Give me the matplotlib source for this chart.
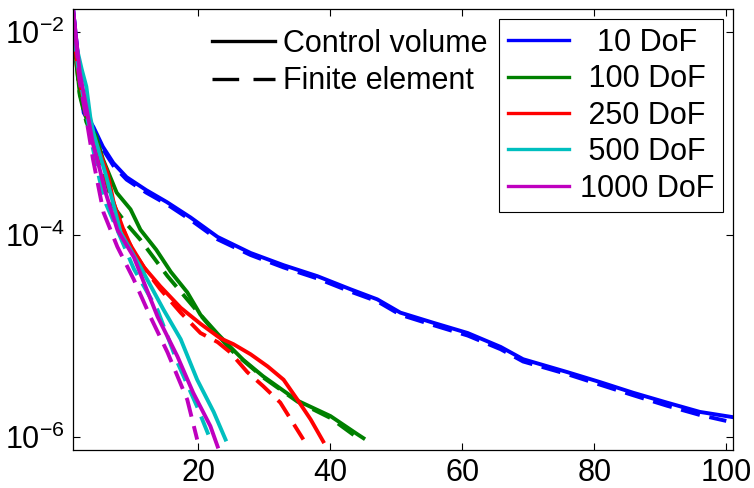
import matplotlib
matplotlib.use("Agg")
import matplotlib.pyplot as plt
from matplotlib.lines import Line2D
from matplotlib.ticker import FixedLocator, NullLocator, LogFormatterSciNotation

plt.rcParams['font.family'] = ['Liberation Sans', 'DejaVu Sans']
plt.rcParams['mathtext.fontset'] = 'custom'
plt.rcParams['mathtext.rm'] = 'Liberation Sans'
plt.rcParams['mathtext.it'] = 'Liberation Sans:italic'
plt.rcParams['mathtext.bf'] = 'Liberation Sans:bold'

# 10 DoF
x10_cv = [1, 1.8, 2.6, 4.1, 5.5, 7.1, 9.1, 12.1, 15.2, 18.8, 22.9, 27.9, 32.9, 38, 43, 47.1, 50.6, 55.6, 60.8, 65.8, 69.2, 75.9, 80.9, 85.9, 91, 96, 101]
y10_cv = [1.66e-2, 5.3e-3, 1.7e-3, 1.15e-3, 7.4e-4, 5.1e-4, 3.7e-4, 2.75e-4, 2.1e-4, 1.48e-4, 9.5e-5, 6.6e-5, 5.0e-5, 3.9e-5, 2.9e-5, 2.3e-5, 1.7e-5, 1.35e-5, 1.07e-5, 7.8e-6, 5.9e-6, 4.4e-6, 3.5e-6, 2.75e-6, 2.2e-6, 1.78e-6, 1.58e-6]
x10_fe = [1, 1.8, 2.6, 4.1, 5.5, 7.1, 9.1, 12.1, 15.2, 18.8, 22.9, 27.9, 32.9, 38, 43, 47.1, 50.6, 55.6, 60.8, 65.8, 69.2, 75.9, 80.9, 85.9, 91, 96, 100]
y10_fe = [1.66e-2, 5.0e-3, 1.6e-3, 1.1e-3, 7.0e-4, 4.8e-4, 3.5e-4, 2.6e-4, 2.0e-4, 1.4e-4, 9.0e-5, 6.3e-5, 4.75e-5, 3.7e-5, 2.75e-5, 2.2e-5, 1.62e-5, 1.28e-5, 1.01e-5, 7.4e-6, 5.6e-6, 4.2e-6, 3.3e-6, 2.6e-6, 2.05e-6, 1.66e-6, 1.45e-6]

# 100 DoF
x100_cv = [1, 2, 3, 4.5, 5.5, 7.6, 9.7, 11.2, 13.6, 15.8, 18.3, 20.3, 22.9, 25, 26.8, 29.8, 35, 40, 44.1, 45]
y100_cv = [1.0e-2, 2.5e-3, 1.4e-3, 9.3e-4, 5.6e-4, 2.6e-4, 1.78e-4, 1.12e-4, 7.1e-5, 4.3e-5, 2.7e-5, 1.62e-5, 1.05e-5, 7.6e-6, 5.8e-6, 4.0e-6, 2.3e-6, 1.62e-6, 1.07e-6, 9.8e-7]
x100_fe = [1, 2, 3, 4, 5.2, 7.1, 9, 11.2, 15.3, 18.8, 21.8, 25, 29.8, 35, 40, 44]
y100_fe = [1.0e-2, 2.4e-3, 1.3e-3, 9.0e-4, 5.1e-4, 1.9e-4, 1.3e-4, 8.9e-5, 3.9e-5, 2.1e-5, 1.23e-5, 7.2e-6, 3.9e-6, 2.25e-6, 1.55e-6, 1.0e-6]

# 250 DoF
x250_cv = [1, 2, 3, 4, 4.7, 6.2, 7.2, 9.2, 11.7, 14.2, 17.3, 20.3, 23.3, 25.3, 27.9, 30.5, 32.9, 35, 37, 38.9]
y250_cv = [1.0e-2, 3.2e-3, 1.6e-3, 1.0e-3, 7.4e-4, 4.1e-4, 2.0e-4, 8.9e-5, 4.8e-5, 3.1e-5, 1.9e-5, 1.32e-5, 9.5e-6, 8.3e-6, 6.6e-6, 5.0e-6, 3.7e-6, 2.35e-6, 1.5e-6, 9.1e-7]
x250_fe = [1, 2, 3, 4, 5, 6, 8, 10, 12, 14.2, 17.3, 20.3, 22.9, 24.8, 27.4, 29.8, 32.4, 35.9]
y250_fe = [1.0e-2, 3.6e-3, 1.8e-3, 9.3e-4, 5.6e-4, 3.5e-4, 1.4e-4, 7.1e-5, 4.5e-5, 2.9e-5, 1.7e-5, 1.07e-5, 8.7e-6, 6.9e-6, 4.4e-6, 3.2e-6, 2.2e-6, 9.5e-7]

# 500 DoF
x500_cv = [1, 2.3, 3.0, 3.6, 4.1, 5, 6, 8.2, 11.2, 14.7, 17.3, 19.8, 22.3, 24.1]
y500_cv = [1.0e-2, 4.3e-3, 2.9e-3, 1.45e-3, 1.0e-3, 6.3e-4, 3.8e-4, 1.05e-4, 4.8e-5, 1.82e-5, 9.3e-6, 3.7e-6, 1.78e-6, 9.5e-7]
x500_fe = [1, 2, 3, 4, 5, 6, 8, 10.2, 13.8, 16.8, 19.8, 21.8]
y500_fe = [1.0e-2, 3.5e-3, 1.6e-3, 7.1e-4, 3.5e-4, 2.0e-4, 1.0e-4, 4.6e-5, 1.8e-5, 5.5e-6, 2.0e-6, 9.5e-7]

# 1000 DoF
x1000_cv = [1, 2, 3, 4, 5, 6, 7.7, 10.2, 13.8, 16.8, 19.2, 21.8, 22.9]
y1000_cv = [1.66e-2, 4.0e-3, 1.8e-3, 7.9e-4, 4.5e-4, 2.5e-4, 1.12e-4, 6.0e-5, 1.55e-5, 6.3e-6, 2.75e-6, 1.29e-6, 8.1e-7]
x1000_fe = [1, 2, 3, 4, 5.6, 7.7, 10.2, 12.7, 15.3, 18.3, 19.8]
y1000_fe = [1.66e-2, 3.2e-3, 1.4e-3, 5.6e-4, 1.66e-4, 7.6e-5, 3.6e-5, 1.55e-5, 6.9e-6, 2.35e-6, 9.5e-7]

labels = ['  10 DoF', ' 100 DoF', ' 250 DoF', ' 500 DoF', '1000 DoF']
colors = ['#0000ff', '#008000', '#ff0000', '#00bfbf', '#bf00bf']
series = [(x10_cv, y10_cv, x10_fe, y10_fe),
          (x100_cv, y100_cv, x100_fe, y100_fe),
          (x250_cv, y250_cv, x250_fe, y250_fe),
          (x500_cv, y500_cv, x500_fe, y500_fe),
          (x1000_cv, y1000_cv, x1000_fe, y1000_fe)]

fig = plt.figure(figsize=(7.54, 4.88), dpi=100)
ax = fig.add_axes([0.097, 0.078, 0.875, 0.904])

lw = 2.8
for (xc, yc, xf, yf), c in zip(series, colors):
    ax.plot(xc, yc, color=c, lw=lw)
    ax.plot(xf, yf, color=c, lw=lw, dashes=(5, 2.5))

ax.set_yscale('log')
ax.set_xlim(1, 101)
ax.set_ylim(7.5e-7, 1.7e-2)
ax.xaxis.set_major_locator(FixedLocator([20, 40, 60, 80, 100]))
ax.yaxis.set_major_locator(FixedLocator([1e-2, 1e-4, 1e-6]))
ax.yaxis.set_major_formatter(LogFormatterSciNotation())
ax.yaxis.set_minor_locator(NullLocator())
ax.tick_params(direction='in', length=5, width=0.8, labelsize=22,
               top=True, right=True, pad=6)
for s in ax.spines.values():
    s.set_linewidth(0.9)

# legend for colours
h_col = [Line2D([], [], color=c, lw=2.4) for c in colors]
leg2 = ax.legend(h_col, labels, loc='upper right', bbox_to_anchor=(0.985, 0.976),
                 borderaxespad=0, fontsize=22, handlelength=2.0, handletextpad=0.36,
                 labelspacing=0.21, borderpad=0.28, fancybox=False, framealpha=1,
                 edgecolor='black')
leg2.get_frame().set_linewidth(0.8)
ax.add_artist(leg2)

# legend for line styles
h_sty = [Line2D([], [], color='black', lw=2.4),
         Line2D([], [], color='black', lw=2.4, dashes=(8, 4.3))]
ax.legend(h_sty, ['Control volume', 'Finite element'], loc='upper left',
          bbox_to_anchor=(0.2106, 0.955), borderaxespad=0, borderpad=0,
          fontsize=22, handlelength=2.06, handletextpad=0.26,
          labelspacing=0.25, frameon=False)

fig.savefig('out.png', dpi=100)
